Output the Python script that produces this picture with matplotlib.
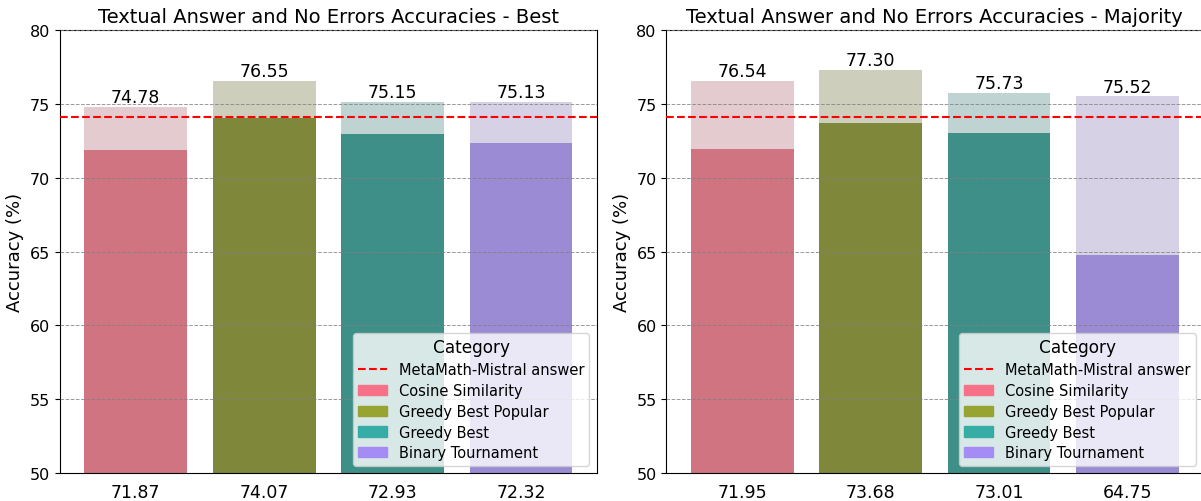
import matplotlib.pyplot as plt
from matplotlib.patches import Patch
from matplotlib.lines import Line2D

categories = ["Cosine Similarity", "Greedy Best Popular", "Greedy Best", "Binary Tournament"]

best_textual = [74.78, 76.55, 75.15, 75.13]
best_no_errors = [71.87, 74.07, 72.93, 72.32]
majority_textual = [76.54, 77.30, 75.73, 75.52]
majority_no_errors = [71.95, 73.68, 73.01, 64.75]
baseline = 74.1

# husl palette (legend) plus the muted shades the bars show
legend_colors = ["#f77189", "#97a431", "#36ada4", "#a48cf4"]
dark_colors = ["#d07482", "#7f873b", "#3e8f88", "#9b8bd4"]
light_colors = ["#e3cbcf", "#cdcfbc", "#bed3d2", "#d6d1e4"]


def draw_panel(ax, textual, no_errors, title):
    x = range(len(categories))
    ax.bar(x, textual, width=0.8, color=light_colors, zorder=1)
    ax.bar(x, no_errors, width=0.8, color=dark_colors, zorder=1.5)
    for i, v in enumerate(textual):
        ax.text(i, v + 0.05, f"{v:.2f}", ha="center", va="bottom", fontsize=12.5)
    ax.axhline(baseline, color="red", linestyle="--", linewidth=1.5, zorder=3)
    ax.set_ylim(50, 80)
    ax.set_xticks(list(x))
    ax.set_xticklabels([f"{v:.2f}" for v in no_errors], fontsize=12.5)
    ax.tick_params(axis="x", length=0, pad=7)
    ax.tick_params(axis="y", labelsize=11.5)
    ax.yaxis.grid(True, linestyle="--", color="gray", linewidth=0.7, alpha=0.8, zorder=2)
    ax.set_axisbelow(False)
    ax.set_ylabel("Accuracy (%)", fontsize=13)
    ax.set_title(title, fontsize=14)

    handles = [Line2D([0], [0], color="red", linestyle="--", linewidth=1.5, label="MetaMath-Mistral answer")]
    handles += [Patch(color=c, label=n) for c, n in zip(legend_colors, categories)]
    leg = ax.legend(handles=handles, title="Category", loc="lower right", fontsize=10.5,
                    title_fontsize=12.2, labelspacing=0.4, borderpad=0.35)
    leg.set_zorder(5)


fig, (ax1, ax2) = plt.subplots(1, 2, figsize=(12.01, 5.02), dpi=100)
fig.subplots_adjust(left=0.05, right=1.0017, bottom=0.056, top=0.938, wspace=0.13)

draw_panel(ax1, best_textual, best_no_errors, "Textual Answer and No Errors Accuracies - Best")
draw_panel(ax2, majority_textual, majority_no_errors, "Textual Answer and No Errors Accuracies - Majority")

fig.savefig("out.png", dpi=100)
